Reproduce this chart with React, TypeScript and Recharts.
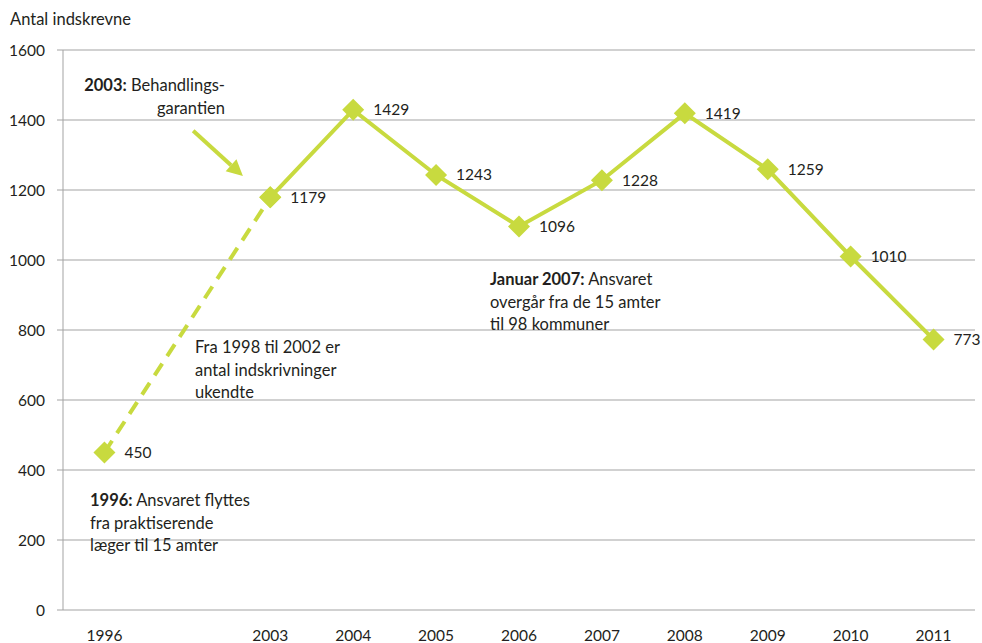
import React from "react";
import {
  CartesianGrid,
  LabelList,
  Line,
  LineChart,
  ReferenceLine,
  XAxis,
  YAxis,
} from "recharts";

const categories = ["1996", "", "2003", "2004", "2005", "2006", "2007", "2008", "2009", "2010", "2011"];
const dashedValues = [450, null, 1179, null, null, null, null, null, null, null, null];
const solidValues = [null, null, 1179, 1429, 1243, 1096, 1228, 1419, 1259, 1010, 773];
const startLabels = [450, null, null, null, null, null, null, null, null, null, null];
const yTicks = [0, 200, 400, 600, 800, 1000, 1200, 1400, 1600];
const arrowFrom = { x: 1.57, y: 1369 };
const arrowTo = { x: 2.17, y: 1240 };

const data = categories.map((c, i) => ({
  x: i + 0.5,
  year: c,
  dashed: dashedValues[i],
  solid: solidValues[i],
  start: startLabels[i],
}));

const labelTicks = data.filter((d) => d.year !== "").map((d) => d.x);
const markTicks = categories.map((_, i) => i).concat([categories.length]);

const palette = {
  line: "#c8da3f",
  grid: "#a3a3a3",
  text: "#231f20",
};
const font = "Lato, 'Open Sans', sans-serif";
const numStyle = { fontSize: 15.5, fill: palette.text, fontFamily: font };

const Diamond = (props: any) => {
  const { cx, cy, value } = props;
  if (value == null || cx == null || cy == null) return null;
  const r = 11;
  return (
    <polygon
      points={`${cx},${cy - r} ${cx + r},${cy} ${cx},${cy + r} ${cx - r},${cy}`}
      fill={palette.line}
    />
  );
};

const Arrow = (props: any) => {
  const { x1, y1, x2, y2 } = props;
  if (x1 == null) return null;
  const ang = Math.atan2(y2 - y1, x2 - x1);
  const len = 16;
  const w = 8;
  const bx = x2 - len * Math.cos(ang);
  const by = y2 - len * Math.sin(ang);
  const px = -Math.sin(ang) * w;
  const py = Math.cos(ang) * w;
  return (
    <g>
      <line x1={x1} y1={y1} x2={bx} y2={by} stroke={palette.line} strokeWidth={4} />
      <polygon points={`${x2},${y2} ${bx + px},${by + py} ${bx - px},${by - py}`} fill={palette.line} />
    </g>
  );
};

const note: React.CSSProperties = {
  position: "absolute",
  fontFamily: font,
  fontSize: 16.5,
  lineHeight: "22.5px",
  color: palette.text,
  whiteSpace: "nowrap",
};

export default function App() {
  return (
    <div style={{ position: "absolute", left: 0, top: 0, width: 982, height: 643, background: "#fff" }}>
      <LineChart
        width={982}
        height={643}
        data={data}
        margin={{ top: 50, right: 7, left: 0, bottom: 0 }}
      >
        <CartesianGrid stroke={palette.grid} vertical={false} xAxisId="marks" />
        <XAxis
          xAxisId="marks"
          dataKey="x"
          type="number"
          domain={[0, categories.length]}
          ticks={markTicks}
          tickFormatter={() => ""}
          stroke={palette.grid}
          tickSize={7}
          height={0}
        />
        <XAxis
          xAxisId="labels"
          dataKey="x"
          type="number"
          domain={[0, categories.length]}
          ticks={labelTicks}
          tickFormatter={(v: number) => categories[Math.floor(v)]}
          axisLine={false}
          tickLine={false}
          tickMargin={14}
          height={33}
          tick={numStyle}
          interval={0}
        />
        <YAxis
          domain={[0, 1600]}
          ticks={yTicks}
          width={63}
          stroke={palette.grid}
          tickSize={6}
          tickMargin={12}
          tick={numStyle}
        />
        <ReferenceLine
          xAxisId="marks"
          segment={[arrowFrom, arrowTo]}
          shape={<Arrow />}
          ifOverflow="visible"
        />
        <Line
          xAxisId="marks"
          dataKey="dashed"
          stroke={palette.line}
          strokeWidth={4}
          strokeDasharray="14 9"
          connectNulls
          dot={<Diamond />}
          activeDot={false}
          isAnimationActive={false}
        >
          <LabelList dataKey="start" position="right" offset={20} style={numStyle} />
        </Line>
        <Line
          xAxisId="marks"
          dataKey="solid"
          stroke={palette.line}
          strokeWidth={4}
          dot={<Diamond />}
          activeDot={false}
          isAnimationActive={false}
        >
          <LabelList dataKey="solid" position="right" offset={20} style={numStyle} />
        </Line>
      </LineChart>

      <div style={{ ...note, left: 10, top: 8 }}>Antal indskrevne</div>
      <div style={{ ...note, right: 982 - 225, top: 74, textAlign: "right" }}>
        <b>2003:</b> Behandlings-
        <br />
        garantien
      </div>
      <div style={{ ...note, left: 195, top: 336 }}>
        Fra 1998 til 2002 er
        <br />
        antal indskrivninger
        <br />
        ukendte
      </div>
      <div style={{ ...note, left: 90, top: 489 }}>
        <b>1996:</b> Ansvaret flyttes
        <br />
        fra praktiserende
        <br />
        læger til 15 amter
      </div>
      <div style={{ ...note, left: 490, top: 268 }}>
        <b>Januar 2007:</b> Ansvaret
        <br />
        overgår fra de 15 amter
        <br />
        til 98 kommuner
      </div>
    </div>
  );
}
